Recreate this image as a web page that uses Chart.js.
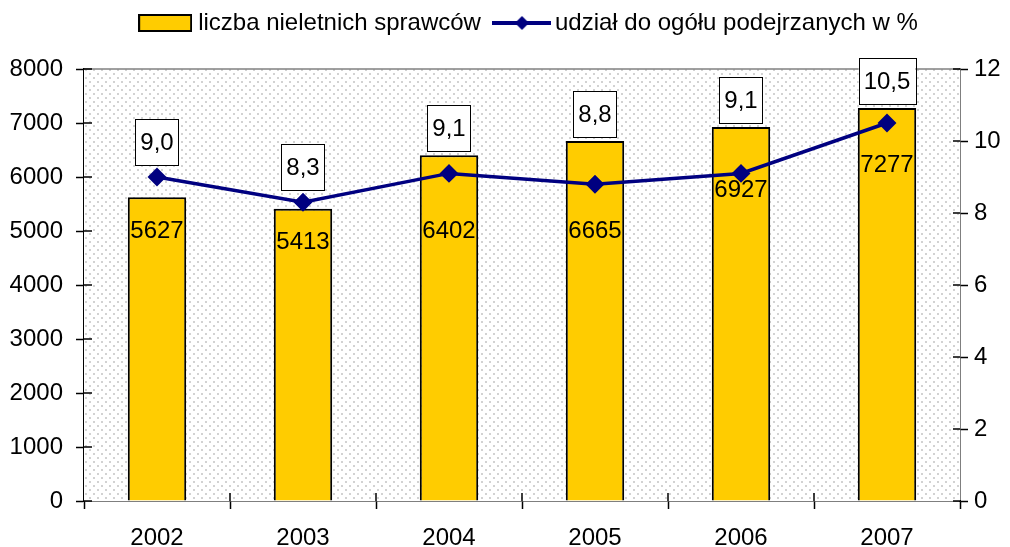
<!DOCTYPE html>
<html lang="pl">
<head>
<meta charset="utf-8">
<script src="https://cdn.jsdelivr.net/npm/chart.js@4/dist/chart.umd.min.js"></script>
<style>
  html, body { margin: 0; padding: 0; background: #fff; }
  #wrap { width: 1010px; height: 547px; position: relative; }
</style>
</head>
<body>
<div id="wrap"><canvas id="chart"></canvas></div>
<script>
// dane
const lata = ['2002', '2003', '2004', '2005', '2006', '2007'];
const sprawcy = [5627, 5413, 6402, 6665, 6927, 7277];
const udzial = [9.0, 8.3, 9.1, 8.8, 9.1, 10.5];
const etykietyUdzial = ['9,0', '8,3', '9,1', '8,8', '9,1', '10,5'];

const FONT = 'Liberation Sans, Arial, sans-serif';

// tło z kropkami
function wzorKropki() {
    const c = document.createElement('canvas');
    c.width = 8; c.height = 8;
    const g = c.getContext('2d');
    g.fillStyle = '#ffffff';
    g.fillRect(0, 0, 8, 8);
    g.fillStyle = '#d2d2d2';
    g.fillRect(1, 1, 2, 2);
    g.fillRect(5, 5, 2, 2);
    return c;
}

// ikony legendy
function ikonaSlupek() {
    const c = document.createElement('canvas');
    c.width = 54; c.height = 18;
    const g = c.getContext('2d');
    g.fillStyle = '#FFCC00';
    g.fillRect(1, 1, 52, 16);
    g.strokeStyle = '#000';
    g.lineWidth = 2;
    g.strokeRect(1, 1, 52, 16);
    return c;
}
function ikonaLinia() {
    const c = document.createElement('canvas');
    c.width = 59; c.height = 16;
    const g = c.getContext('2d');
    g.strokeStyle = '#000080';
    g.lineWidth = 4;
    g.beginPath(); g.moveTo(0, 8); g.lineTo(59, 8); g.stroke();
    g.fillStyle = '#000080';
    g.beginPath(); g.moveTo(29.5, 1); g.lineTo(36.5, 8); g.lineTo(29.5, 15); g.lineTo(22.5, 8); g.closePath(); g.fill();
    return c;
}

// stała wysokość legendy i jej przesunięcie
const legendaPozycja = {
    id: 'legendaPozycja',
    beforeInit(chart) {
        const fit = chart.legend.fit;
        chart.legend.fit = function () {
            fit.call(this);
            this.height = 69;
        };
    },
    afterLayout(chart, args, opts) {
        const l = chart.legend;
        l.left += opts.dx; l.right += opts.dx;
        l.top += opts.dy; l.bottom += opts.dy;
    }
};

const tloPlugin = {
    id: 'tlo',
    beforeDatasetsDraw(chart) {
        const { ctx, chartArea: a } = chart;
        ctx.save();
        ctx.fillStyle = ctx.createPattern(wzorKropki(), 'repeat');
        ctx.fillRect(a.left, a.top, a.right - a.left, a.bottom - a.top);
        ctx.strokeStyle = '#808080';
        ctx.lineWidth = 1.5;
        ctx.beginPath(); ctx.moveTo(a.left, a.top); ctx.lineTo(a.right, a.top); ctx.stroke();
        ctx.restore();
    },
    // wewnętrzna część kresek (kreski przecinają oś)
    afterDraw(chart) {
        const { ctx, chartArea: a, scales } = chart;
        ctx.save();
        ctx.strokeStyle = '#000';
        ctx.lineWidth = 1.5;
        ctx.beginPath();
        scales.y.ticks.forEach((t, i) => {
            const y = scales.y.getPixelForTick(i);
            ctx.moveTo(a.left, y); ctx.lineTo(a.left + 8, y);
        });
        scales.y2.ticks.forEach((t, i) => {
            const y = scales.y2.getPixelForTick(i);
            ctx.moveTo(a.right, y); ctx.lineTo(a.right - 7, y);
        });
        const krok = (a.right - a.left) / lata.length;
        for (let i = 1; i < lata.length; i++) {
            const x = a.left + krok * i;
            ctx.moveTo(x, a.bottom); ctx.lineTo(x, a.bottom - 8);
        }
        ctx.stroke();
        ctx.restore();
    }
};

const etykietyPlugin = {
    id: 'etykiety',
    afterDatasetsDraw(chart, args, opts) {
        const ctx = chart.ctx;
        const slupki = chart.getDatasetMeta(1).data;
        ctx.save();
        ctx.font = '24px ' + FONT;
        ctx.textAlign = 'center';
        ctx.textBaseline = 'middle';
        ctx.fillStyle = '#000';
        // wartości słupków
        slupki.forEach((bar, i) => {
            ctx.fillText(String(sprawcy[i]), bar.x, bar.y + opts.przesuniecie[i]);
        });
        // wartości procentowe w ramkach (nad punktem, ale nie na słupku)
        chart.getDatasetMeta(0).data.forEach((pt, i) => {
            const t = etykietyUdzial[i];
            const w = ctx.measureText(t).width + 10;
            const h = 46;
            const cy = Math.min(pt.y - 35, slupki[i].y - 27);
            ctx.fillStyle = '#fff';
            ctx.fillRect(pt.x - w / 2, cy - h / 2, w, h);
            ctx.strokeStyle = '#000';
            ctx.lineWidth = 1;
            ctx.strokeRect(Math.round(pt.x - w / 2) + 0.5, Math.round(cy - h / 2) + 0.5, Math.round(w), h);
            ctx.fillStyle = '#000';
            ctx.fillText(t, pt.x, cy + 1);
        });
        ctx.restore();
    }
};

new Chart(document.getElementById('chart'), {
    data: {
        labels: lata,
        datasets: [
            {
                type: 'line',
                label: 'udział do ogółu podejrzanych w %',
                data: udzial,
                yAxisID: 'y2',
                borderColor: '#000080',
                backgroundColor: '#000080',
                borderWidth: 3.5,
                pointStyle: 'rectRot',
                pointRadius: 7,
                pointHoverRadius: 7,
                tension: 0,
                order: 0
            },
            {
                type: 'bar',
                label: 'liczba nieletnich sprawców',
                data: sprawcy,
                yAxisID: 'y',
                backgroundColor: '#FFCC00',
                borderColor: '#000',
                borderWidth: 2,
                categoryPercentage: 1,
                barPercentage: 0.4,
                order: 1
            }
        ]
    },
    options: {
        responsive: true,
        maintainAspectRatio: false,
        animation: false,
        layout: { padding: 0 },
        scales: {
            x: {
                grid: { display: true, drawOnChartArea: false, offset: true, color: '#000', tickLength: 8, tickWidth: 1.5 },
                border: { color: '#000', width: 1.5 },
                ticks: { color: '#000', font: { family: FONT, size: 24 }, padding: 15 },
                afterFit(s) { s.height = 46; }
            },
            y: {
                position: 'left',
                min: 0, max: 8000,
                ticks: { stepSize: 1000, color: '#000', font: { family: FONT, size: 24 }, padding: 13, callback: v => String(v) },
                grid: { drawOnChartArea: false, color: '#000', tickLength: 8, tickWidth: 1.5 },
                border: { color: '#000', width: 1.5 },
                afterFit(s) { s.width = 84; }
            },
            y2: {
                position: 'right',
                min: 0, max: 12,
                ticks: { stepSize: 2, color: '#000', font: { family: FONT, size: 24 }, padding: 6, callback: v => String(v) },
                grid: { drawOnChartArea: false, color: '#000', tickLength: 8, tickWidth: 1.5 },
                border: { color: '#000', width: 1.5 },
                afterFit(s) { s.width = 50; }
            }
        },
        plugins: {
            legend: {
                position: 'top',
                labels: {
                    color: '#000',
                    font: { family: FONT, size: 24 },
                    usePointStyle: true,
                    pointStyleWidth: 42,
                    padding: 20,
                    generateLabels(chart) {
                        return [
                            { text: 'liczba nieletnich sprawców', pointStyle: ikonaSlupek(), fillStyle: '#FFCC00', strokeStyle: '#000', lineWidth: 0, datasetIndex: 1, fontColor: '#000' },
                            { text: 'udział do ogółu podejrzanych w %', pointStyle: ikonaLinia(), fillStyle: '#000080', strokeStyle: '#000080', lineWidth: 0, datasetIndex: 0, fontColor: '#000' }
                        ];
                    }
                }
            },
            legendaPozycja: { dx: 26, dy: -9 },
            tooltip: { enabled: false },
            etykiety: { przesuniecie: [34, 34, 76, 90, 63, 57] }
        }
    },
    plugins: [legendaPozycja, tloPlugin, etykietyPlugin]
});
</script>
</body>
</html>
